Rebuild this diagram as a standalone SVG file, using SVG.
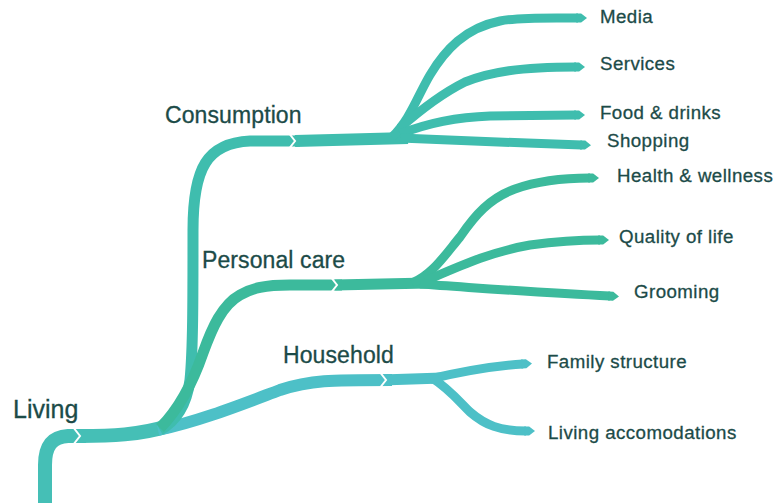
<svg xmlns="http://www.w3.org/2000/svg" width="777" height="503" viewBox="0 0 777 503">
  <defs>
    <marker id="tipC" viewBox="0 -1 2 2" refX="0.2" refY="0" markerWidth="2" markerHeight="2" markerUnits="strokeWidth" orient="auto" overflow="visible">
      <path d="M0,-0.5 L0.55,-0.5 L1.2,0 L0.55,0.5 L0,0.5 Z" fill="#3fbdae"/>
    </marker>
    <marker id="tipP" viewBox="0 -1 2 2" refX="0.2" refY="0" markerWidth="2" markerHeight="2" markerUnits="strokeWidth" orient="auto" overflow="visible">
      <path d="M0,-0.5 L0.55,-0.5 L1.2,0 L0.55,0.5 L0,0.5 Z" fill="#3cba9c"/>
    </marker>
    <marker id="tipH" viewBox="0 -1 2 2" refX="0.2" refY="0" markerWidth="2" markerHeight="2" markerUnits="strokeWidth" orient="auto" overflow="visible">
      <path d="M0,-0.5 L0.55,-0.5 L1.2,0 L0.55,0.5 L0,0.5 Z" fill="#4dc0c7"/>
    </marker>
  </defs>
  <style>
    .b { fill: none; stroke-linecap: butt; stroke-linejoin: round; }
    .c { stroke: #3fbdae; }
    .p { stroke: #3cba9c; }
    .h { stroke: #4dc0c7; }
    .l { stroke: #45bfb6; }
    .notch { fill: none; stroke: #ffffff; stroke-width: 2; stroke-linejoin: miter; }
    text { font-family: "Liberation Sans", Arial, sans-serif; fill: #1c4b48; stroke: #1c4b48; stroke-width: 0.3; }
    .main { font-size: 23px; letter-spacing: 0.1px; }
    .root { font-size: 25px; }
    .leaf { font-size: 18.7px; letter-spacing: 0.45px; }
  </style>
  <rect width="777" height="503" fill="#ffffff"/>

  <g id="connectors">
    <!-- trunk -->
    <path class="b l" stroke-width="14" d="M45,503 L45,465 C45,446 52,437 68,436 L86,436"/>
    <!-- shared root -->
    <path class="b l" stroke-width="14" d="M80,436 C110,436 140,435 168,426"/>
    <!-- Household -->
    <path class="b h" stroke-width="12" d="M158,430 C200,421 240,405 280,390 C310,380 330,380 392,380"/>
    <!-- Consumption -->
    <path class="b c" stroke-width="11" d="M160,430 C178,420 187,402 190,380 C193,350 193,300 193,230 C193,168 207,143 250,141 L300,141"/>
    <!-- Personal care -->
    <path class="b p" stroke-width="11" d="M160,428 C178,410 193,382 203,353 C212,328 222,305 240,295 C252,288 265,285 290,285 L342,285"/>

    <!-- Consumption subbranches -->
    <path class="b c" stroke-width="12" d="M295,141 L408,138"/>
    <path class="b c" stroke-width="9" marker-end="url(#tipC)" d="M392,137 C410,120 418,95 430,75 C445,50 465,28 500,21 C520,17 550,18 578,18"/>
    <path class="b c" stroke-width="9" marker-end="url(#tipC)" d="M400,128 C425,106 445,92 465,82 C490,72 520,67 576,67"/>
    <path class="b c" stroke-width="9" marker-end="url(#tipC)" d="M400,134 C430,122 460,117 490,116 L576,115"/>
    <path class="b c" stroke-width="9" marker-end="url(#tipC)" d="M400,138 C450,140 520,143 582,145"/>

    <!-- Personal care subbranches -->
    <path class="b p" stroke-width="11" d="M335,285 L428,283"/>
    <path class="b p" stroke-width="9" marker-end="url(#tipP)" d="M412,283 C432,275 445,255 460,237 C475,215 490,198 515,189 C540,180 565,178 590,178"/>
    <path class="b p" stroke-width="9" marker-end="url(#tipP)" d="M425,281 C460,266 490,252 530,245 C560,241 578,240 600,240"/>
    <path class="b p" stroke-width="9" marker-end="url(#tipP)" d="M420,284 C480,288 540,293 610,296"/>

    <!-- Household subbranches -->
    <path class="b h" stroke-width="11" d="M382,380 L442,378"/>
    <path class="b h" stroke-width="9" marker-end="url(#tipH)" d="M430,379 C460,372 490,366 523,364"/>
    <path class="b h" stroke-width="9" marker-end="url(#tipH)" d="M432,378 C448,388 458,400 470,412 C485,425 500,431 526,431"/>

    <!-- notches -->
    <polyline class="notch" points="73,427 80,436 73,445"/>
    <polyline class="notch" points="288,132 295,141 288,150"/>
    <polyline class="notch" points="330,276 337,285 330,294"/>
    <polyline class="notch" points="379,371 386,380 379,389"/>
  </g>

  <g id="living"><text class="root" x="13" y="418">Living</text></g>
  <g id="consumption"><text class="main" x="165" y="123">Consumption</text></g>
  <g id="personal-care"><text class="main" x="202" y="268">Personal care</text></g>
  <g id="household"><text class="main" x="283" y="363">Household</text></g>

  <g id="media"><text class="leaf" x="600" y="23">Media</text></g>
  <g id="services"><text class="leaf" x="600" y="70">Services</text></g>
  <g id="food-drinks"><text class="leaf" x="600" y="119">Food &amp; drinks</text></g>
  <g id="shopping"><text class="leaf" x="607" y="147">Shopping</text></g>

  <g id="health-wellness"><text class="leaf" x="617" y="182">Health &amp; wellness</text></g>
  <g id="quality-of-life"><text class="leaf" x="619" y="243">Quality of life</text></g>
  <g id="grooming"><text class="leaf" x="634" y="298">Grooming</text></g>

  <g id="family-structure"><text class="leaf" x="547" y="368">Family structure</text></g>
  <g id="living-accomodations"><text class="leaf" x="548" y="439">Living accomodations</text></g>
</svg>
